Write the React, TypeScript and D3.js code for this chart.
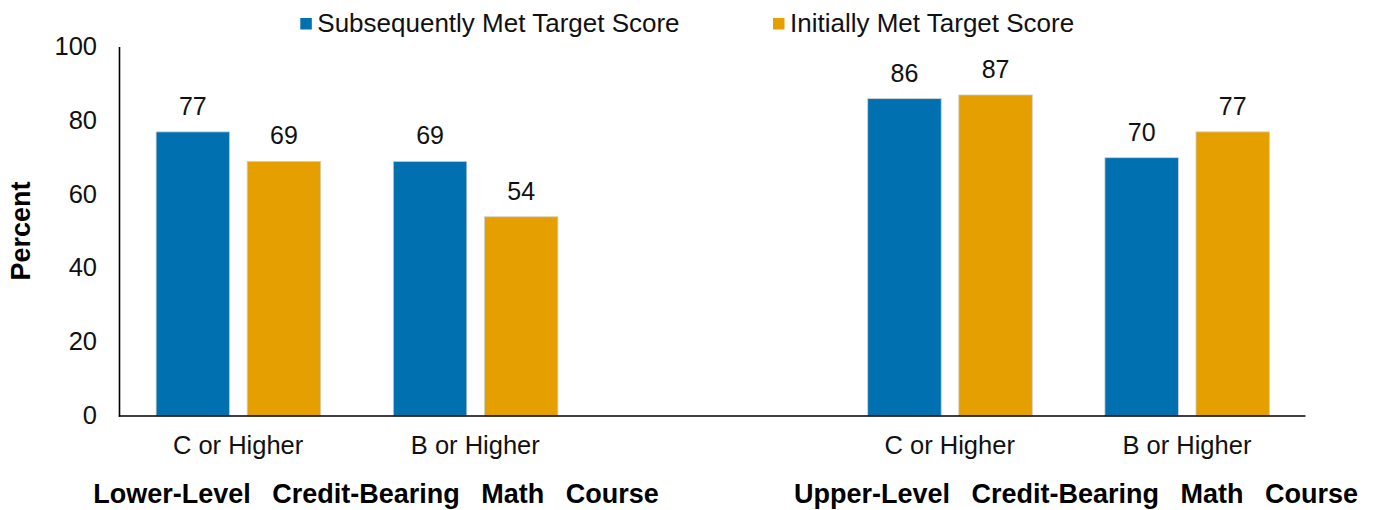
import React from "react";
import * as d3 from "d3";

const categoryKeys = ["c1", "b1", "gap", "c2", "b2"];
const categoryLabels = ["C or Higher", "B or Higher", "", "C or Higher", "B or Higher"];
const seriesNames = ["Subsequently Met Target Score", "Initially Met Target Score"];
const subsequentlyValues: (number | null)[] = [77, 69, null, 86, 70];
const initiallyValues: (number | null)[] = [69, 54, null, 87, 77];
const yTicks = [0, 20, 40, 60, 80, 100];
const groupTitles = ["Lower-Level Credit-Bearing Math Course", "Upper-Level Credit-Bearing Math Course"];

const COLORS = ["#0070B0", "#E5A000"];
const FONT = "'Liberation Sans', Arial, Helvetica, sans-serif";

export default function App() {
  const W = 1373;
  const H = 510;
  const left = 119.5;
  const right = 1305.5;
  const top = 47;
  const bottom = 416;

  const x = d3.scaleBand<string>().domain(categoryKeys).range([left, right]).padding(0);
  const y = d3.scaleLinear().domain([0, 100]).range([bottom, top]);
  const inner = d3
    .scaleBand<string>()
    .domain(["s0", "s1"])
    .range([36.6, 201.2])
    .paddingInner(0.193);

  const series = [subsequentlyValues, initiallyValues];

  return (
    <svg
      width={W}
      height={H}
      style={{ position: "absolute", left: 0, top: 0, background: "#fff" }}
      fontFamily={FONT}
    >
      {/* bars */}
      {series.map((vals, si) =>
        vals.map((v, ci) => {
          if (v == null) return null;
          const bx = (x(categoryKeys[ci]) as number) + (inner("s" + si) as number);
          const bw = inner.bandwidth();
          return (
            <g key={`b-${si}-${ci}`}>
              <rect
                x={bx}
                y={y(v)}
                width={bw}
                height={y(0) - y(v)}
                fill={COLORS[si]}
                stroke="#cfcfcf"
                strokeWidth={0.8}
              />
              <text
                x={bx + bw / 2}
                y={y(v) - 17}
                textAnchor="middle"
                fontSize={25}
                fill="#111"
              >
                {v}
              </text>
            </g>
          );
        })
      )}

      {/* axes */}
      <line x1={left} x2={left} y1={top} y2={bottom + 0.75} stroke="#000" strokeWidth={1.6} />
      <line x1={left - 0.75} x2={right} y1={bottom} y2={bottom} stroke="#000" strokeWidth={1.6} />

      {/* y ticks */}
      {yTicks.map((t) => (
        <text key={t} x={97} y={y(t)} dy={8} textAnchor="end" fontSize={25.5} fill="#111">
          {t}
        </text>
      ))}

      {/* category labels */}
      {categoryKeys.map((k, i) =>
        categoryLabels[i] ? (
          <text
            key={k}
            x={(x(k) as number) + x.bandwidth() / 2}
            y={454}
            textAnchor="middle"
            fontSize={25.5}
            fill="#111"
          >
            {categoryLabels[i]}
          </text>
        ) : null
      )}

      {/* group titles */}
      {groupTitles.map((t, i) => (
        <text
          key={t}
          x={i === 0 ? 376 : 1076}
          y={503}
          textAnchor="middle"
          fontSize={27}
          fontWeight="bold"
          wordSpacing={14}
          fill="#000"
        >
          {t}
        </text>
      ))}

      {/* y axis title */}
      <text
        transform={`translate(30,231) rotate(-90)`}
        textAnchor="middle"
        fontSize={27}
        fontWeight="bold"
        fill="#000"
      >
        Percent
      </text>

      {/* legend */}
      {seriesNames.map((n, i) => {
        const lx = i === 0 ? 300.3 : 773;
        return (
          <g key={n}>
            <rect x={lx} y={18} width={11.5} height={11.5} fill={COLORS[i]} />
            <text x={lx + 17} y={31.5} fontSize={26} fill="#111">
              {n}
            </text>
          </g>
        );
      })}
    </svg>
  );
}
